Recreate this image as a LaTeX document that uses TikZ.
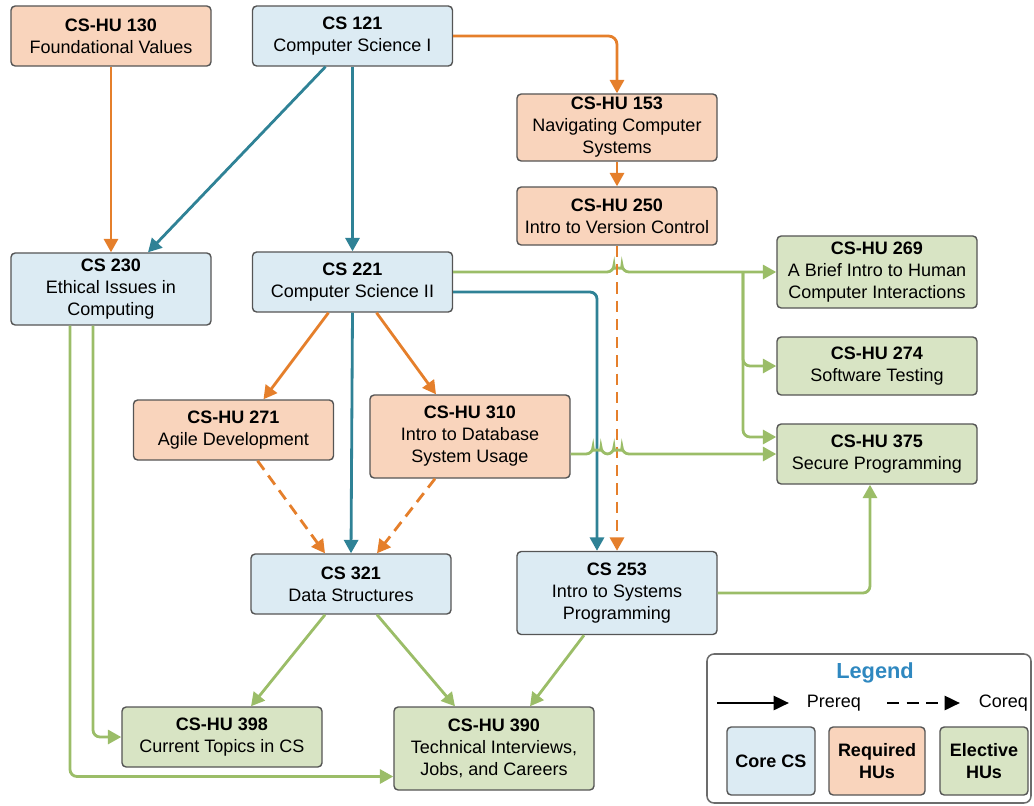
\documentclass[tikz,border=0pt]{standalone}
\usepackage{fontspec}
\setmainfont{Liberation Sans}
\usetikzlibrary{arrows.meta}

\definecolor{corefill}{HTML}{DCEBF3}
\definecolor{reqfill}{HTML}{F9D4BC}
\definecolor{elecfill}{HTML}{D8E4C4}
\definecolor{boxline}{HTML}{555555}
\definecolor{reqline}{HTML}{E57F2B}
\definecolor{coreline}{HTML}{2F8296}
\definecolor{elecline}{HTML}{9BBD68}
\definecolor{legblue}{HTML}{2F88C0}

\begin{document}
\begin{tikzpicture}[
    x=0.025cm, y=-0.025cm,
    course/.style={rectangle, rounded corners=3pt, draw=boxline, line width=1pt, align=center, minimum width=5cm, minimum height=1.5cm, inner sep=2pt, font=\fontsize{12.8}{15.6}\selectfont},
    core/.style={course, fill=corefill},
    req/.style={course, fill=reqfill},
    elec/.style={course, fill=elecfill},
    tip/.style={-{Triangle[length=9.5pt, width=10pt]}, line width=2pt},
    prereq/.style={tip, draw=reqline},
    coreq/.style={tip, draw=reqline, dash pattern=on 8pt off 5pt},
    corearrow/.style={tip, draw=coreline},
    elecarrow/.style={tip, draw=elecline, rounded corners=5pt},
    legendbox/.style={draw=gray!85!black, line width=1.1pt, rounded corners=5pt},
    legkey/.style={course, minimum width=2.2cm, minimum height=1.7cm, font=\bfseries\fontsize{12.8}{15.6}\selectfont},
    legarrow/.style={-{Triangle[length=11pt, width=10pt]}, line width=2pt, draw=black}
]
\useasboundingbox (0,0) rectangle (1034,805);

\node[req] (h130) at (111,36) {\textbf{CS-HU 130}\\Foundational Values};
\node[core] (c121) at (352.5,36) {\textbf{CS 121}\\Computer Science I};
\node[req, minimum height=1.675cm] (h153) at (617,127.5) {\textbf{CS-HU 153}\\Navigating Computer\\Systems};
\node[req, minimum height=1.45cm] (h250) at (617,216) {\textbf{CS-HU 250}\\Intro to Version Control};
\node[core, minimum height=1.8cm] (c230) at (111,289) {\textbf{CS 230}\\Ethical Issues in\\Computing};
\node[core] (c221) at (352.5,282) {\textbf{CS 221}\\Computer Science II};
\node[elec, minimum height=1.8cm] (h269) at (877,272) {\textbf{CS-HU 269}\\A Brief Intro to Human\\Computer Interactions};
\node[elec, minimum height=1.45cm] (h274) at (877,366) {\textbf{CS-HU 274}\\Software Testing};
\node[elec] (h375) at (877,454) {\textbf{CS-HU 375}\\Secure Programming};
\node[req] (h271) at (233.5,430) {\textbf{CS-HU 271}\\Agile Development};
\node[req, minimum height=2.075cm] (h310) at (470,436.5) {\textbf{CS-HU 310}\\Intro to Database\\System Usage};
\node[core] (c321) at (351,584) {\textbf{CS 321}\\Data Structures};
\node[core, minimum height=2.075cm] (c253) at (617,593) {\textbf{CS 253}\\Intro to Systems\\Programming};
\node[elec] (h398) at (222,737) {\textbf{CS-HU 398}\\Current Topics in CS};
\node[elec, minimum height=2.075cm] (h390) at (494,748.5) {\textbf{CS-HU 390}\\Technical Interviews,\\Jobs, and Careers};

\draw[prereq] (h130.south) -- (c230.north);
\draw[corearrow] ([xshift=-0.675cm]c121.south) -- ([xshift=0.925cm]c230.north);
\draw[corearrow] (c121.south) -- (c221.north);
\draw[prereq, rounded corners=6pt] (c121.east) -| (h153.north);
\draw[prereq] (h153.south) -- (h250.north);

\coordinate (branch) at (743,272);
\draw[elecarrow] ([yshift=0.25cm]c221.east) -- (614,272) arc[start angle=180, end angle=360, radius=4] -- (h269.west);
\draw[elecarrow] (branch) |- (h274.west);
\draw[elecarrow] (branch) |- ([yshift=0.425cm]h375.west);
\draw[corearrow, rounded corners=5pt] ([yshift=-0.25cm]c221.east) -| ([xshift=-0.5cm]c253.north);
\draw[coreq] (h250.south) -- (c253.north);

\draw[prereq] ([xshift=-0.6cm]c221.south) -- ([xshift=0.75cm]h271.north);
\draw[prereq] ([xshift=0.6cm]c221.south) -- ([xshift=-0.85cm]h310.north);
\draw[corearrow] (c221.south) -- (c321.north);
\draw[coreq] ([xshift=0.6cm]h271.south) -- ([xshift=-0.65cm]c321.north);
\draw[coreq] ([xshift=-0.875cm]h310.south) -- ([xshift=0.65cm]c321.north);
\draw[elecarrow] (h310.east |- h375.west) -- (593,454) arc[start angle=180, end angle=360, radius=4] -- (614,454) arc[start angle=180, end angle=360, radius=4] -- (h375.west);

\draw[elecarrow] (c253.east) -| ([xshift=-0.175cm]h375.south);
\draw[elecarrow] ([xshift=-0.825cm]c253.south) -- ([xshift=0.9cm]h390.north);
\draw[elecarrow] ([xshift=-0.65cm]c321.south) -- ([xshift=0.725cm]h398.north);
\draw[elecarrow] ([xshift=0.65cm]c321.south) -- ([xshift=-0.975cm]h390.north);
\draw[elecarrow] ([xshift=-0.45cm]c230.south) |- (h398.west);
\draw[elecarrow] ([xshift=-1.025cm]c230.south) |- ([yshift=-0.7cm]h390.west);

\draw[legendbox] (707,654) rectangle (1031,803);
\node[font=\bfseries\fontsize{15.5}{18}\selectfont, text=legblue] (legtitle) at (875,673) {Legend};
\coordinate (pa) at (717,703);
\coordinate (pb) at (789,703);
\coordinate (qa) at (887,703);
\coordinate (qb) at (960,703);
\draw[legarrow] (pa) -- (pb);
\node[font=\fontsize{12.8}{15.6}\selectfont, anchor=west] (prereqtext) at (802,703) {Prereq};
\draw[legarrow, dash pattern=on 8.5pt off 5.5pt] (qa) -- (qb);
\node[font=\fontsize{12.8}{15.6}\selectfont, anchor=west] (coreqtext) at (974,703) {Coreq};
\node[legkey, fill=corefill] (lcore) at (771,761) {Core CS};
\node[legkey, fill=reqfill, minimum width=2.4cm] (lreq) at (877,761) {Required\\HUs};
\node[legkey, fill=elecfill] (lelec) at (984,761) {Elective\\HUs};
\end{tikzpicture}
\end{document}
